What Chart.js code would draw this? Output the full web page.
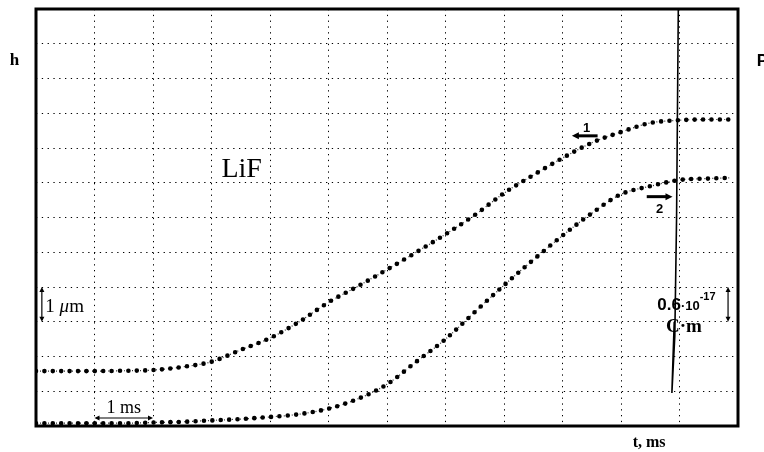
<!DOCTYPE html>
<html>
<head>
<meta charset="utf-8">
<script src="https://cdn.jsdelivr.net/npm/chart.js@4.4.1/dist/chart.umd.min.js"></script>
<style>
  html, body { margin: 0; padding: 0; background: #fff; }
  #wrap { width: 764px; height: 452px; }
</style>
</head>
<body>
<div id="wrap"><canvas id="chart" width="764" height="452"></canvas></div>
<script>
// time axis, ms (one grid division = 1 ms)
const timeMs = [0, 0.5, 1, 1.5, 2, 2.5, 3, 3.5, 4, 4.5, 5, 5.5, 6, 6.5, 7, 7.5, 8, 8.5, 9, 9.5, 10, 10.5, 11, 11.5, 11.85];
// h, μm (one grid division = 1 μm)
const curve1 = [1.58, 1.58, 1.58, 1.59, 1.61, 1.7, 1.85, 2.19, 2.53, 3.0, 3.56, 4.02, 4.5, 5.0, 5.52, 6.07, 6.7, 7.22, 7.71, 8.15, 8.46, 8.72, 8.8, 8.82, 8.82];
const curve2 = [0.08, 0.08, 0.08, 0.08, 0.1, 0.12, 0.16, 0.2, 0.26, 0.34, 0.5, 0.78, 1.2, 1.85, 2.5, 3.28, 4.05, 4.78, 5.48, 6.12, 6.67, 6.9, 7.08, 7.12, 7.14];
// P signal (the vertical spike)
const spikeT = [10.98, 10.95, 10.92, 10.87, 10.89, 10.91];
const spikeP = [12.1, 6.0, 2.6, 0.95, 2.0, 3.0];

const xMin = 0, xMax = 12, yMin = 0, yMax = 12;

function toPoints(xs, ys) {
    return xs.map((x, i) => ({x: x, y: ys[i]}));
}

function arrowHead(ctx, x, y, dx, dy, size) {
    // dx, dy: unit direction the arrow points to
    ctx.beginPath();
    ctx.moveTo(x, y);
    ctx.lineTo(x - dx * size - dy * size * 0.5, y - dy * size + dx * size * 0.5);
    ctx.lineTo(x - dx * size + dy * size * 0.5, y - dy * size - dx * size * 0.5);
    ctx.closePath();
    ctx.fill();
}

function dblArrow(ctx, x1, y1, x2, y2, size) {
    const len = Math.hypot(x2 - x1, y2 - y1);
    const dx = (x2 - x1) / len, dy = (y2 - y1) / len;
    ctx.beginPath();
    ctx.moveTo(x1 + dx * 2, y1 + dy * 2);
    ctx.lineTo(x2 - dx * 2, y2 - dy * 2);
    ctx.stroke();
    arrowHead(ctx, x2, y2, dx, dy, size);
    arrowHead(ctx, x1, y1, -dx, -dy, size);
}

// labels and frame, placed through the scales
const notes = {
    id: 'notes',
    afterDraw(chart) {
        const ctx = chart.ctx;
        const xs = chart.scales.x, ys = chart.scales.y;
        const px = v => xs.getPixelForValue(v);
        const py = v => ys.getPixelForValue(v);
        const a = chart.chartArea;

        ctx.save();
        ctx.fillStyle = '#000';
        ctx.strokeStyle = '#000';

        // frame
        ctx.lineWidth = 3;
        ctx.strokeRect(a.left, a.top, a.right - a.left, a.bottom - a.top);

        ctx.textBaseline = 'alphabetic';
        ctx.textAlign = 'left';

        // axis names
        ctx.font = 'bold 17px "Liberation Serif"';
        ctx.fillText('h', px(-0.45), py(10.4));
        ctx.font = 'bold 17px "Liberation Sans"';
        ctx.fillText('P', px(12.32), py(10.35));
        ctx.font = 'bold 16px "Liberation Serif"';
        ctx.fillText('t, ms', px(10.2), py(-0.6));

        // sample
        ctx.font = '28px "Liberation Serif"';
        ctx.fillText('LiF', px(3.17), py(7.17));

        // scale marks
        ctx.lineWidth = 1.2;
        dblArrow(ctx, px(0.1), py(4), px(0.1), py(3), 5);
        ctx.font = '19px "Liberation Serif"';
        ctx.fillText('1 ', px(0.16), py(3.27));
        let w = ctx.measureText('1 ').width;
        ctx.font = 'italic 19px "Liberation Serif"';
        ctx.fillText('\u03bc', px(0.16) + w, py(3.27));
        w += ctx.measureText('\u03bc').width;
        ctx.font = '19px "Liberation Serif"';
        ctx.fillText('m', px(0.16) + w, py(3.27));

        dblArrow(ctx, px(1), py(0.23), px(2), py(0.23), 5);
        ctx.font = '18px "Liberation Serif"';
        ctx.textAlign = 'center';
        ctx.fillText('1 ms', px(1.5), py(0.37));
        ctx.textAlign = 'left';

        dblArrow(ctx, px(11.83), py(4), px(11.83), py(3), 5);
        ctx.font = 'bold 17px "Liberation Sans"';
        ctx.fillText('0.6', px(10.62), py(3.33));
        let x0 = px(10.62) + ctx.measureText('0.6').width;
        ctx.font = 'bold 13px "Liberation Sans"';
        ctx.fillText('\u00b710', x0, py(3.33));
        x0 += ctx.measureText('\u00b710').width;
        ctx.font = 'bold 11px "Liberation Sans"';
        ctx.fillText('-17', x0, py(3.62));
        ctx.font = 'bold 19px "Liberation Serif"';
        ctx.fillText('C\u00b7m', px(10.77), py(2.7));

        // curve labels
        ctx.lineWidth = 3;
        ctx.beginPath();
        ctx.moveTo(px(9.6), py(8.35));
        ctx.lineTo(px(9.26), py(8.35));
        ctx.stroke();
        arrowHead(ctx, px(9.16), py(8.35), -1, 0, 7);
        ctx.beginPath();
        ctx.moveTo(px(10.44), py(6.6));
        ctx.lineTo(px(10.78), py(6.6));
        ctx.stroke();
        arrowHead(ctx, px(10.88), py(6.6), 1, 0, 7);
        ctx.font = 'bold 13px "Liberation Sans"';
        ctx.fillText('1', px(9.35), py(8.47));
        ctx.fillText('2', px(10.6), py(6.12));

        ctx.restore();
    }
};

const dotStyle = {
    borderColor: '#000',
    borderWidth: 4.6,
    borderDash: [0, 8.4],
    borderCapStyle: 'round',
    pointRadius: 0,
    cubicInterpolationMode: 'monotone',
    fill: false
};
const fineStyle = {
    borderColor: '#333',
    borderWidth: 1.2,
    borderDash: [1, 3],
    pointRadius: 0,
    cubicInterpolationMode: 'monotone',
    fill: false
};

new Chart(document.getElementById('chart'), {
    type: 'line',
    data: {
        datasets: [
            Object.assign({label: '1', data: toPoints(timeMs, curve1), order: 2}, dotStyle),
            Object.assign({label: '2', data: toPoints(timeMs, curve2), order: 2}, dotStyle),
            Object.assign({label: '1f', data: toPoints(timeMs, curve1), order: 3}, fineStyle),
            Object.assign({label: '2f', data: toPoints(timeMs, curve2), order: 3}, fineStyle),
            {
                label: 'P',
                data: toPoints(spikeT, spikeP),
                borderColor: '#000',
                borderWidth: 1.6,
                pointRadius: 0,
                tension: 0,
                fill: false,
                order: 1
            }
        ]
    },
    options: {
        responsive: false,
        animation: false,
        events: [],
        layout: {padding: {left: 36, top: 9, right: 26, bottom: 26}},
        plugins: {
            legend: {display: false},
            tooltip: {enabled: false}
        },
        scales: {
            x: {
                type: 'linear',
                min: xMin,
                max: xMax,
                ticks: {display: false, stepSize: 1},
                grid: {color: '#000', lineWidth: 1, drawTicks: false},
                border: {display: false, dash: [1.3, 4.5]}
            },
            y: {
                type: 'linear',
                min: yMin,
                max: yMax,
                ticks: {display: false, stepSize: 1},
                grid: {color: '#000', lineWidth: 1, drawTicks: false},
                border: {display: false, dash: [1.3, 4.5]}
            }
        }
    },
    plugins: [notes]
});
</script>
</body>
</html>
